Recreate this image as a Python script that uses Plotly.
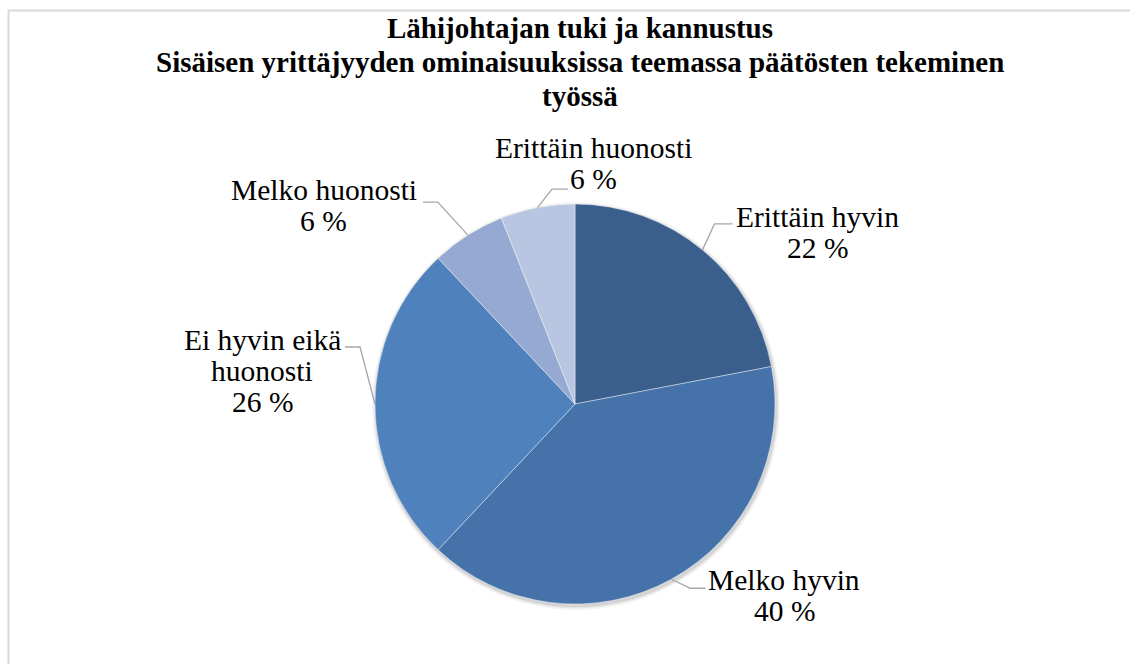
import math
import plotly.graph_objects as go

# Survey answers and their shares (%)
categories = ["Erittäin hyvin", "Melko hyvin", "Ei hyvin eikä huonosti",
              "Melko huonosti", "Erittäin huonosti"]
shares = [22, 40, 26, 6, 6]
label_lines = [["Erittäin hyvin"], ["Melko hyvin"], ["Ei hyvin eikä", "huonosti"],
               ["Melko huonosti"], ["Erittäin huonosti"]]
title_lines = ["Lähijohtajan tuki ja kannustus",
               "Sisäisen yrittäjyyden ominaisuuksissa teemassa päätösten tekeminen",
               "työssä"]

colors = ["#3A5F8D", "#4472A9", "#4F81BD", "#95A9D2", "#B9C6E1"]

W, H = 1130, 664
CX, CY, R = 575, 404, 200          # pie centre and radius in pixels
LINE_GAP = 31                       # spacing between label lines

# leader elbow / end and label centre, as pixel offsets from the slice edge point
elbow_off = [(12, -26), (19, 9), (-15, -57), (-30, -33), (14.5, -18.5)]
end_off = [(30, -26), (34, 9), (-30, -57), (-45, -33), (30.5, -18.5)]
label_off = [(115, -33), (113, 1), (-113, -64), (-144, -45), (56, -60)]

LABEL_FONT = dict(family="Liberation Serif", size=29.5, color="#000000")
TITLE_FONT = dict(family="Liberation Serif", size=29, color="#000000")


def px(x):
    return x / W


def py(y):
    return 1 - y / H


fig = go.Figure(go.Pie(
    labels=categories,
    values=shares,
    sort=False,
    direction="clockwise",
    rotation=0,
    marker=dict(colors=colors, line=dict(color="rgba(255,255,255,0.6)", width=0.7)),
    textinfo="none",
    hoverinfo="label+percent",
    domain=dict(x=[px(CX - R), px(CX + R)], y=[py(CY + R), py(CY - R)]),
    showlegend=False,
))

shapes = []
# soft shadow under the pie
for grow, alpha in [(4, 0.04), (2.5, 0.06), (1.2, 0.08)]:
    shapes.append(dict(type="circle", xref="paper", yref="paper", layer="below",
                       x0=px(CX + 1 - R - grow), x1=px(CX + 1 + R + grow),
                       y0=py(CY + 2 + R + grow), y1=py(CY + 2 - R - grow),
                       fillcolor=f"rgba(0,0,0,{alpha})", line=dict(width=0)))

# chart-area border
shapes.append(dict(type="rect", xref="paper", yref="paper", layer="below",
                   x0=px(8.5), x1=px(W + 20), y0=py(H + 20), y1=py(10.5),
                   line=dict(color="#D9D9D9", width=2), fillcolor="rgba(0,0,0,0)"))

annotations = []
total = sum(shares)
cum = 0
for i, v in enumerate(shares):
    mid = (cum + v / 2) / total * 2 * math.pi
    cum += v
    ex = CX + R * math.sin(mid)
    ey = CY - R * math.cos(mid)
    bx, by = ex + elbow_off[i][0], ey + elbow_off[i][1]
    tx, ty = ex + end_off[i][0], ey + end_off[i][1]
    shapes.append(dict(type="path", xref="paper", yref="paper",
                       path=f"M {px(ex)},{py(ey)} L {px(bx)},{py(by)} L {px(tx)},{py(ty)}",
                       line=dict(color="#A6A6A6", width=1.3)))
    lx, ly = ex + label_off[i][0], ey + label_off[i][1]
    lines = label_lines[i] + [f"{v} %"]
    for k, txt in enumerate(lines):
        annotations.append(dict(xref="paper", yref="paper", x=px(lx), y=py(ly + k * LINE_GAP),
                                text=txt, showarrow=False, xanchor="center", yanchor="middle",
                                font=LABEL_FONT))

for k, txt in enumerate(title_lines):
    annotations.append(dict(xref="paper", yref="paper", x=px(580), y=py(28 + k * 34),
                            text=f"<b>{txt}</b>", showarrow=False,
                            xanchor="center", yanchor="middle", font=TITLE_FONT))

fig.update_layout(
    width=W, height=H,
    margin=dict(l=0, r=0, t=0, b=0),
    paper_bgcolor="#FFFFFF",
    plot_bgcolor="#FFFFFF",
    shapes=shapes,
    annotations=annotations,
)

fig.write_html("out.html")
